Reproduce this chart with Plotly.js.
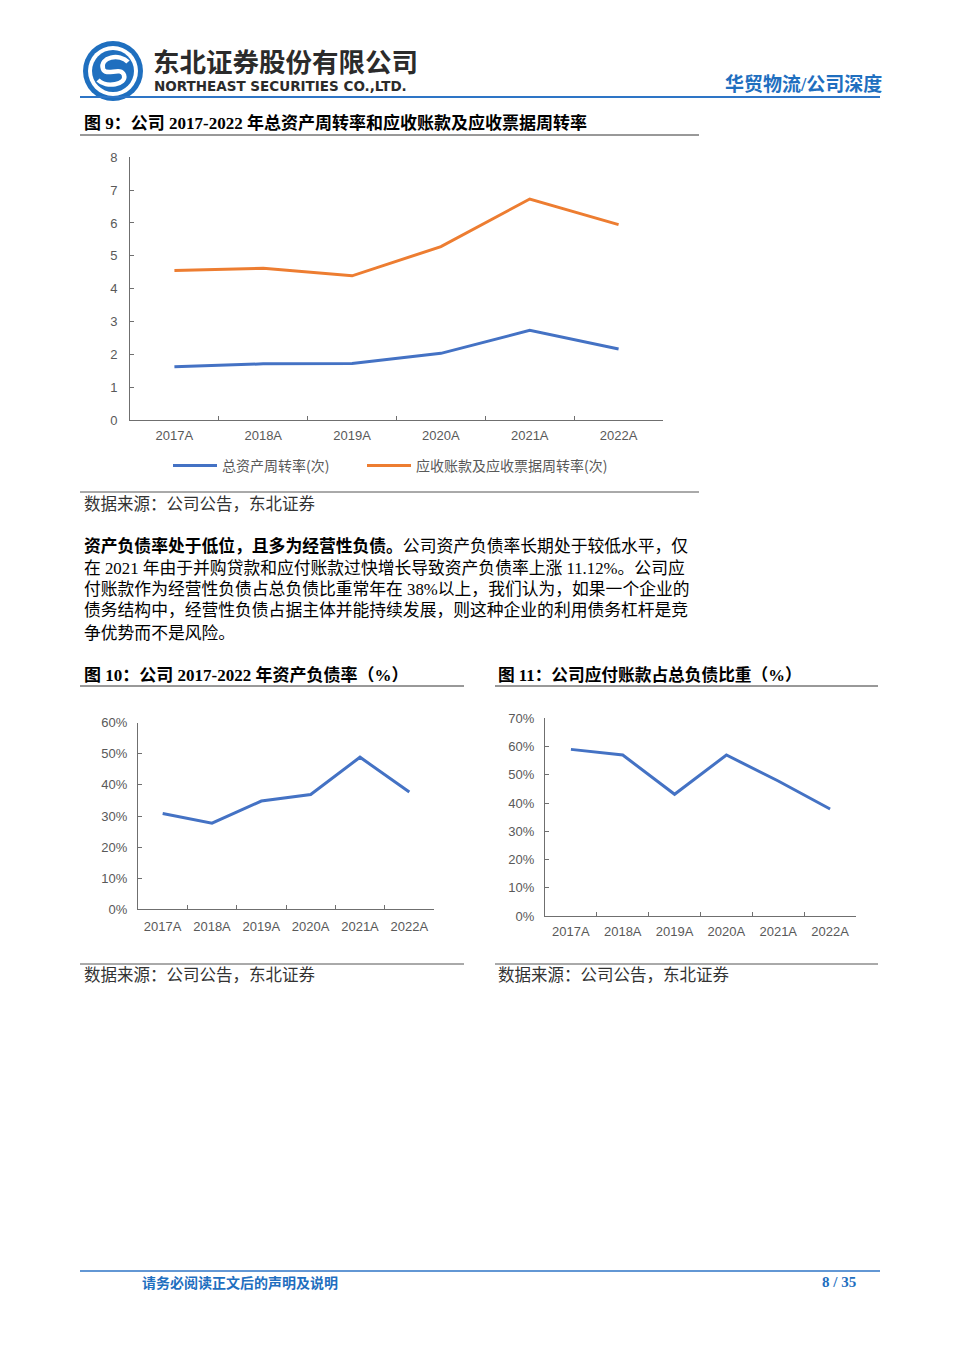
<!DOCTYPE html>
<html>
<head>
<meta charset="utf-8">
<script src="https://cdn.plot.ly/plotly-3.0.1.min.js"></script>
<style>
html,body{margin:0;padding:0;background:#fff;}
#page{width:960px;height:1358px;}
</style>
</head>
<body>
<div id="page"></div>
<script>
// ---- data ----
const years = ['2017A','2018A','2019A','2020A','2021A','2022A'];
const totalAssetTurnover = [1.62, 1.71, 1.72, 2.03, 2.73, 2.16];
const receivableTurnover = [4.55, 4.62, 4.39, 5.28, 6.73, 5.95];
const debtRatio = [30.8, 27.7, 34.8, 36.9, 48.9, 37.7];
const payableShare = [59.0, 57.0, 43.1, 57.0, 47.8, 37.9];
const seriesNames = ['总资产周转率(次)', '应收账款及应收票据周转率(次)'];

const W = 960, H = 1358;
const px = x => x / W;
const py = y => 1 - y / H;

const BLUE = '#4472C4', ORANGE = '#ED7D31';
const HEAD_BLUE = '#1F6FBF';
const TICK = '#595959', AXIS = '#6f6f6f';
const SERIF = 'Liberation Serif, "Noto Sans CJK SC", serif';
const SANS = '"Liberation Sans", Arial, "Noto Sans CJK SC", sans-serif';
const CJK = '"Noto Sans CJK SC", sans-serif';

function xa(dom, anchor, standoff) {
  return {domain: dom, anchor: anchor, type: 'category', range: [-0.5, 5.5],
    showline: true, linecolor: AXIS, linewidth: 1, ticks: 'inside', tickson: 'boundaries',
    ticklen: 4, tickcolor: AXIS, showgrid: false, zeroline: false,
    ticklabelstandoff: standoff,
    tickfont: {family: SANS, size: 13, color: TICK}, fixedrange: true};
}
function ya(dom, anchor, range, dtick, suffix, standoff) {
  return {domain: dom, anchor: anchor, range: range, dtick: dtick, ticksuffix: suffix || '',
    showline: true, linecolor: AXIS, linewidth: 1, ticks: 'inside', ticklen: 4, tickcolor: AXIS,
    showgrid: false, zeroline: false, tickfont: {family: SANS, size: 13, color: TICK},
    ticklabelstandoff: standoff, fixedrange: true};
}

const traces = [
  {x: years, y: totalAssetTurnover, name: seriesNames[0], type: 'scatter', mode: 'lines',
   line: {color: BLUE, width: 3}, xaxis: 'x', yaxis: 'y', hoverinfo: 'skip', legend: 'legend'},
  {x: years, y: receivableTurnover, name: seriesNames[1], type: 'scatter', mode: 'lines',
   line: {color: ORANGE, width: 3}, xaxis: 'x', yaxis: 'y', hoverinfo: 'skip', legend: 'legend2'},
  {x: years, y: debtRatio, name: '资产负债率', type: 'scatter', mode: 'lines', showlegend: false,
   line: {color: BLUE, width: 3}, xaxis: 'x2', yaxis: 'y2', hoverinfo: 'skip'},
  {x: years, y: payableShare, name: '应付账款占总负债比重', type: 'scatter', mode: 'lines', showlegend: false,
   line: {color: BLUE, width: 3}, xaxis: 'x3', yaxis: 'y3', hoverinfo: 'skip'}
];

function ann(text, x, y, o) {
  o = o || {};
  return Object.assign({text: text, x: px(x), y: py(y), xref: 'paper', yref: 'paper',
    xanchor: 'left', yanchor: 'middle', showarrow: false,
    font: {family: SERIF, size: 15, color: '#000'}}, o);
}
function hline(x0, x1, y, color, width) {
  return {type: 'line', xref: 'paper', yref: 'paper', x0: px(x0), x1: px(x1), y0: py(y), y1: py(y),
    line: {color: color, width: width}};
}
function circ(cx, cy, r, fill) {
  return {type: 'circle', xref: 'paper', yref: 'paper', x0: px(cx - r), x1: px(cx + r),
    y0: py(cy + r), y1: py(cy - r), fillcolor: fill, line: {width: 0}};
}
function P(x, y) { return px(x).toFixed(5) + ',' + py(y).toFixed(5); }

const sPath = 'M' + P(128, 62) + ' C' + P(120, 53) + ' ' + P(99, 57) + ' ' + P(103, 69) +
  ' C' + P(106, 77) + ' ' + P(121, 66) + ' ' + P(124, 75) +
  ' C' + P(127, 85) + ' ' + P(106, 88) + ' ' + P(98, 80);

const shapes = [
  circ(113, 71, 30, HEAD_BLUE),
  circ(113, 71, 25, '#ffffff'),
  circ(113, 71, 21, HEAD_BLUE),
  {type: 'path', xref: 'paper', yref: 'paper', path: sPath, line: {color: '#ffffff', width: 4.5}},
  hline(80, 880, 97, '#2E75C6', 2),
  hline(80, 699, 135, '#333', 1),
  hline(80, 699, 492, '#555', 1),
  hline(80, 464, 686, '#333', 1),
  hline(495, 878, 686, '#333', 1),
  hline(80, 464, 964, '#555', 1),
  hline(495, 878, 964, '#555', 1),
  hline(80, 880, 1271, '#2E75C6', 1.5)
];

const PARA = {family: SERIF, size: 16.8, color: '#000'};
const TITLE = {family: SERIF, size: 17, color: '#000'};
const SRC = {family: SERIF, size: 16.5, color: '#333'};

const annotations = [
  ann('<b>东北证券股份有限公司</b>', 151, 61, {font: {family: CJK, size: 26.5, color: '#2b2b2b'}}),
  ann('<b>NORTHEAST SECURITIES CO.,LTD.</b>', 152, 86, {font: {family: 'DejaVu Sans, sans-serif', size: 13.5, color: '#2b2b2b'}}),
  ann('<b>华贸物流/公司深度</b>', 884, 84, {xanchor: 'right', font: {family: SERIF, size: 19, color: HEAD_BLUE}}),
  ann('<b>图 9：公司 2017-2022 年总资产周转率和应收账款及应收票据周转率</b>', 82, 123, {font: TITLE}),
  ann('数据来源：公司公告，东北证券', 82, 504, {font: SRC}),
  ann('<b>资产负债率处于低位，且多为经营性负债。</b>公司资产负债率长期处于较低水平，仅', 82, 546, {font: PARA}),
  ann('在 2021 年由于并购贷款和应付账款过快增长导致资产负债率上涨 11.12%。公司应', 82, 568, {font: PARA}),
  ann('付账款作为经营性负债占总负债比重常年在 38%以上，我们认为，如果一个企业的', 82, 589, {font: PARA}),
  ann('债务结构中，经营性负债占据主体并能持续发展，则这种企业的利用债务杠杆是竞', 82, 611, {font: PARA}),
  ann('争优势而不是风险。', 82, 633, {font: PARA}),
  ann('<b>图 10：公司 2017-2022 年资产负债率（%）</b>', 82, 675, {font: TITLE}),
  ann('<b>图 11：公司应付账款占总负债比重（%）</b>', 496, 675, {font: {family: SERIF, size: 16.7, color: '#000'}}),
  ann('数据来源：公司公告，东北证券', 82, 975, {font: SRC}),
  ann('数据来源：公司公告，东北证券', 496, 975, {font: SRC}),
  ann('<b>请务必阅读正文后的声明及说明</b>', 140, 1282, {font: {family: CJK, size: 14, color: HEAD_BLUE}}),
  ann('<b>8 / 35</b>', 858, 1282, {xanchor: 'right', font: {family: SERIF, size: 15, color: HEAD_BLUE}})
];

function leg(x) {
  return {orientation: 'h', x: px(x), y: py(466), xanchor: 'left', yanchor: 'middle',
    font: {family: CJK, size: 14, color: TICK}, itemwidth: 44, bgcolor: 'rgba(0,0,0,0)'};
}

const layout = {
  width: W, height: H, margin: {l: 0, r: 0, t: 0, b: 0},
  paper_bgcolor: '#ffffff', plot_bgcolor: '#ffffff',
  showlegend: true,
  legend: leg(168),
  legend2: leg(362),
  xaxis: xa([px(130), px(663)], 'y', 3),
  yaxis: ya([py(420), py(157.3)], 'x', [0, 8], 1, '', 9),
  xaxis2: xa([px(138), px(434)], 'y2', 5),
  yaxis2: ya([py(909.3), py(722.7)], 'x2', [0, 60], 10, '%', 7),
  xaxis3: xa([px(545), px(856)], 'y3', 3),
  yaxis3: ya([py(916), py(718.3)], 'x3', [0, 70], 10, '%', 7),
  shapes: shapes,
  annotations: annotations
};

Plotly.newPlot('page', traces, layout, {staticPlot: true, displayModeBar: false});
</script>
</body>
</html>
